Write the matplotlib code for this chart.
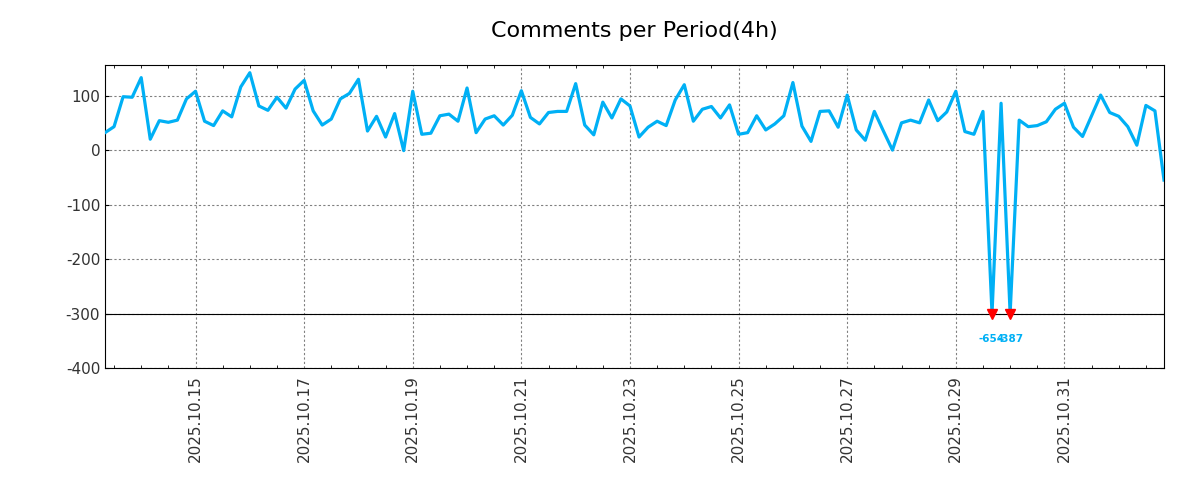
import numpy as np
import pandas as pd
import matplotlib
matplotlib.use("Agg")
import matplotlib.pyplot as plt
import matplotlib.dates as mdates

################################################################################
# data: comments per 4h period, starting 2025-10-13 08:00
start = "2025-10-13 08:00"
counts = [
    32, 43, 98, 97, 133, 20, 54, 51, 55, 94,
    108, 53, 45, 72, 61, 116, 142, 81, 73, 97,
    77, 112, 128, 72, 46, 57, 94, 104, 130, 35,
    62, 24, 67, -1, 108, 29, 31, 63, 66, 53,
    114, 32, 57, 63, 46, 64, 109, 60, 48, 69,
    71, 71, 122, 46, 28, 88, 59, 94, 81, 24,
    42, 53, 45, 92, 120, 53, 75, 80, 59, 83,
    29, 32, 63, 37, 48, 63, 124, 44, 16, 71,
    72, 42, 101, 37, 18, 71, 35, 0, 50, 55,
    50, 92, 54, 70, 108, 34, 29, 71, -654, 86,
    -387, 55, 43, 45, 52, 75, 86, 42, 25, 63,
    101, 69, 62, 43, 9, 82, 72, -55,
]
clip_floor = -300

line_color = "#00b0f5"

################################################################################
plt.rcParams["axes.unicode_minus"] = False

times = pd.date_range(start=start, periods=len(counts), freq="4h")
values = np.array(counts, dtype=float)
shown = np.maximum(values, clip_floor)
low = values < clip_floor

fig = plt.figure(figsize=(12, 5), dpi=100)
ax = fig.add_axes([0.0875, 0.264, 0.8825, 0.606])

ax.plot(times, shown, color=line_color, linewidth=2.3, zorder=3)
ax.axhline(clip_floor, color="black", linewidth=0.8, zorder=2)

# markers + real values for the clipped points
ax.plot(times[low], shown[low], linestyle="none", marker="v",
        color="red", markersize=6.5, zorder=4)
for t, v in zip(times[low], values[low]):
    ax.text(t, clip_floor - 47, f"{int(v)}", ha="center", va="center",
            fontsize=7.5, fontweight="bold", color=line_color)

ax.set_xlim(times[0], times[-1])
ax.set_ylim(-400, max(counts) * 1.1)
ax.set_yticks([100, 0, -100, -200, -300, -400])

ax.xaxis.set_major_locator(mdates.DayLocator(interval=2, bymonthday=range(1, 32, 2)))
ax.xaxis.set_minor_locator(mdates.HourLocator(byhour=[0, 12]))
ax.xaxis.set_major_formatter(mdates.DateFormatter("%Y.%m.%d"))
plt.setp(ax.get_xticklabels(), rotation=90)

ax.tick_params(which="both", direction="in", top=True, right=True,
               labelsize=11, labelcolor="#333333")
ax.tick_params(which="major", length=3)
ax.tick_params(axis="x", which="major", length=0, pad=5)
ax.tick_params(which="minor", length=2.5)
ax.grid(True, which="major", linestyle=(0, (2, 2)), color="gray", linewidth=0.8)

ax.set_title("Comments per Period(4h)", fontsize=16, pad=20)

fig.savefig("out.png", dpi=100)
